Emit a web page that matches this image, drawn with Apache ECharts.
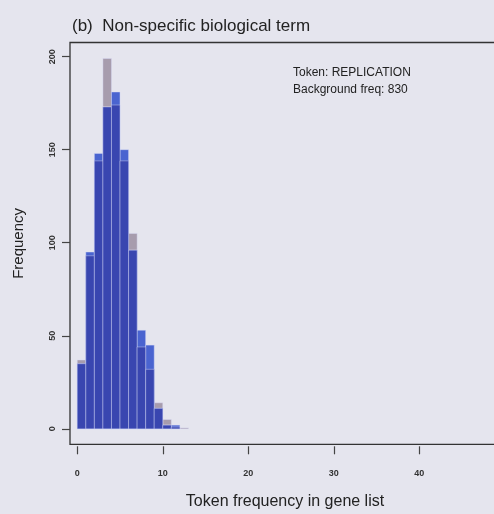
<!DOCTYPE html>
<html>
<head>
<meta charset="utf-8">
<script src="https://cdn.jsdelivr.net/npm/echarts@6/dist/echarts.min.js"></script>
<style>
html,body{margin:0;padding:0;background:#e5e5ee;}
#chart{width:494px;height:514px;}
</style>
</head>
<body>
<div id="chart"></div>
<script>
// Histogram bins (left edge of each unit-width bin)
var binStarts = [0, 1, 2, 3, 4, 5, 6, 7, 8, 9, 10, 11, 12];
// Background (grey) histogram
var greyCounts = [37, 93, 144, 199, 174, 144, 105, 44, 32, 14, 5, 1, 0.5];
// Observed (blue) histogram
var blueCounts = [35, 95, 148, 173, 181, 150, 96, 53, 45, 11, 2, 2, 0];
var xTicks = [0, 10, 20, 30, 40];
var yTicks = [0, 50, 100, 150, 200];
var titleText = '(b)  Non-specific biological term';
var noteLines = ['Token: REPLICATION', 'Background freq: 830'];

var overlap = binStarts.map(function (b, i) { return [b, Math.min(greyCounts[i], blueCounts[i])]; });
var greyData = binStarts.map(function (b, i) { return [b, greyCounts[i]]; });
var blueData = binStarts.map(function (b, i) { return [b, blueCounts[i]]; });

function makeRender(color) {
  return function (params, api) {
    var x0 = api.value(0), v = api.value(1);
    if (!(v > 0)) return null;
    var p0 = api.coord([x0, 0]);
    var p1 = api.coord([x0 + 1, v]);
    return {
      type: 'rect',
      shape: { x: p0[0], y: p1[1], width: p1[0] - p0[0], height: p0[1] - p1[1] },
      style: { fill: color, stroke: 'rgba(215,218,245,0.55)', lineWidth: 0.8 }
    };
  };
}

var chart = echarts.init(document.getElementById('chart'), null, { renderer: 'canvas' });
chart.setOption({
  backgroundColor: '#e5e5ee',
  animation: false,
  title: {
    text: titleText,
    left: 67, top: 13,
    textStyle: { fontFamily: 'Liberation Sans', fontSize: 17, fontWeight: 'normal', color: '#222' }
  },
  grid: { left: 70, top: 42.5, width: 430, height: 401.8, show: true, borderColor: '#333', borderWidth: 1.3, backgroundColor: 'transparent', containLabel: false, outerBoundsMode: 'none' },
  xAxis: {
    type: 'value', min: -0.85, max: -0.85 + 430 / 8.55,
    offset: 2,
    axisLine: { show: false, onZero: false },
    splitLine: { show: false },
    axisTick: { show: true, length: 8, lineStyle: { color: '#444', width: 1.2 }, customValues: xTicks },
    axisLabel: { fontFamily: 'Liberation Sans', fontSize: 9, color: '#333', margin: 23, customValues: xTicks, fontWeight: 'bold' },
    name: 'Token frequency in gene list',
    nameLocation: 'middle', nameGap: 47,
    nameTextStyle: { fontFamily: 'Liberation Sans', fontSize: 16, color: '#222' }
  },
  yAxis: {
    type: 'value', min: -8.3, max: 207.6,
    axisLine: { show: false, onZero: false },
    splitLine: { show: false },
    axisTick: { show: true, length: 8, lineStyle: { color: '#444', width: 1.2 }, customValues: yTicks },
    axisLabel: { fontFamily: 'Liberation Sans', fontSize: 9, color: '#333', rotate: 90, margin: 13, customValues: yTicks, fontWeight: 'bold' },
    name: 'Frequency',
    nameLocation: 'middle', nameGap: 44, nameRotate: 90,
    nameTextStyle: { fontFamily: 'Liberation Sans', fontSize: 15, color: '#222' }
  },
  graphic: [{
    type: 'text', left: 293, top: 64,
    style: { text: noteLines.join('\n'), fontFamily: 'Liberation Sans', fontSize: 12, lineHeight: 17, fill: '#222' }
  }],
  series: [
    { type: 'custom', name: 'background', renderItem: makeRender('#a79cad'), data: greyData, encode: { x: 0, y: 1 } },
    { type: 'custom', name: 'observed', renderItem: makeRender('#4a64d0'), data: blueData, encode: { x: 0, y: 1 } },
    { type: 'custom', name: 'overlap', renderItem: makeRender('#3946b0'), data: overlap, encode: { x: 0, y: 1 } }
  ]
});
</script>
</body>
</html>
